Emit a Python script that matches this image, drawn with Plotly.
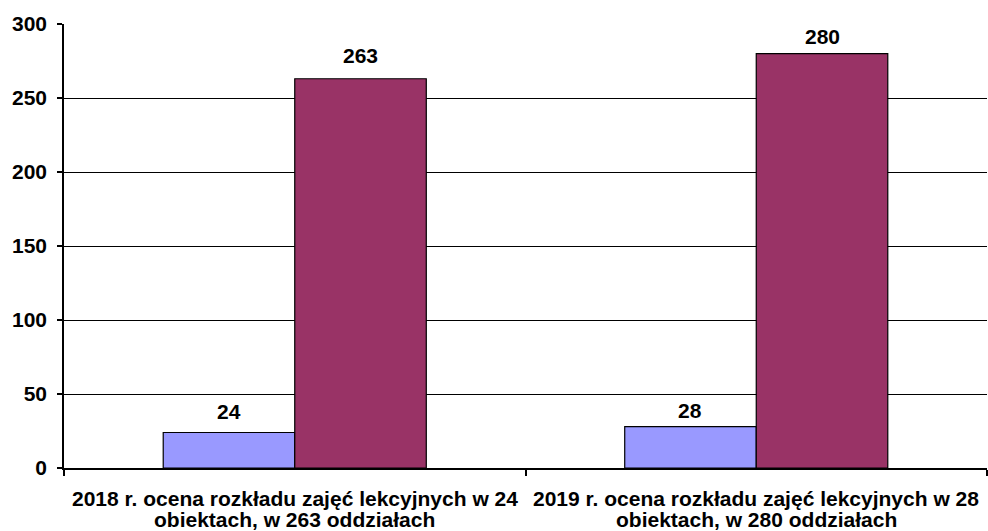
import plotly.graph_objects as go

categories = ["2018 r.", "2019 r."]
label_line1 = [
    "2018 r. ocena rozkładu zajęć lekcyjnych w 24",
    "2019 r. ocena rozkładu zajęć lekcyjnych w 28",
]
label_line2 = [
    "obiektach, w 263 oddziałach",
    "obiektach, w 280 oddziałach",
]
series_obiekty = [24, 28]
series_oddzialy = [263, 280]
y_ticks = [0, 50, 100, 150, 200, 250, 300]

FONT = "Liberation Sans, Arial"
# label vertical offsets (px) per category for [obiekty, oddzialy]
LABEL_SHIFT = [[20.5, 23], [16.5, 17.5]]

fig = go.Figure()
fig.add_trace(go.Bar(x=categories, y=series_obiekty, marker=dict(color="#9999FF", line=dict(color="black", width=1.2)), name="obiekty"))
fig.add_trace(go.Bar(x=categories, y=series_oddzialy, marker=dict(color="#993366", line=dict(color="black", width=1.2)), name="oddziały"))

for i, c in enumerate(categories):
    for j, (vals, off) in enumerate(((series_obiekty, -0.5), (series_oddzialy, 0.5))):
        fig.add_annotation(x=c, y=vals[i], text=f"<b>{vals[i]}</b>", showarrow=False,
                           xshift=off * 132, yshift=LABEL_SHIFT[i][j], yanchor="middle",
                           font=dict(size=21, color="black", family=FONT))
    fig.add_annotation(x=c, y=0, yref="paper", text=f"<b>{label_line1[i]}</b>", showarrow=False,
                       yshift=-30, yanchor="middle",
                       font=dict(size=21, color="black", family=FONT))
    fig.add_annotation(x=c, y=0, yref="paper", text=f"<b>{label_line2[i]}</b>", showarrow=False,
                       yshift=-51, yanchor="middle",
                       font=dict(size=21, color="black", family=FONT))

fig.update_layout(
    width=988, height=531,
    margin=dict(l=64, r=1, t=24, b=63),
    paper_bgcolor="white", plot_bgcolor="white",
    showlegend=False,
    barmode="group", bargap=0.43, bargroupgap=0,
    font=dict(family=FONT, color="black"),
)
fig.update_xaxes(
    type="category", tickson="boundaries", ticks="outside", ticklen=6, tickcolor="black", tickwidth=1.5,
    showticklabels=False,
    showline=True, linecolor="black", linewidth=2, showgrid=False,
)
fig.update_yaxes(
    range=[0, 300], tickvals=y_ticks, ticks="outside", ticklen=5, tickcolor="black", tickwidth=1.5,
    ticklabelstandoff=6,
    showline=True, linecolor="black", linewidth=1.5, showgrid=True, gridcolor="black", gridwidth=1.3,
    zeroline=False,
    tickfont=dict(size=21, color="black", family=FONT, weight="bold"),
)

fig.write_html("out.html", config={"displayModeBar": False},
               post_script="document.body.style.margin='0';document.body.style.overflow='hidden';")
